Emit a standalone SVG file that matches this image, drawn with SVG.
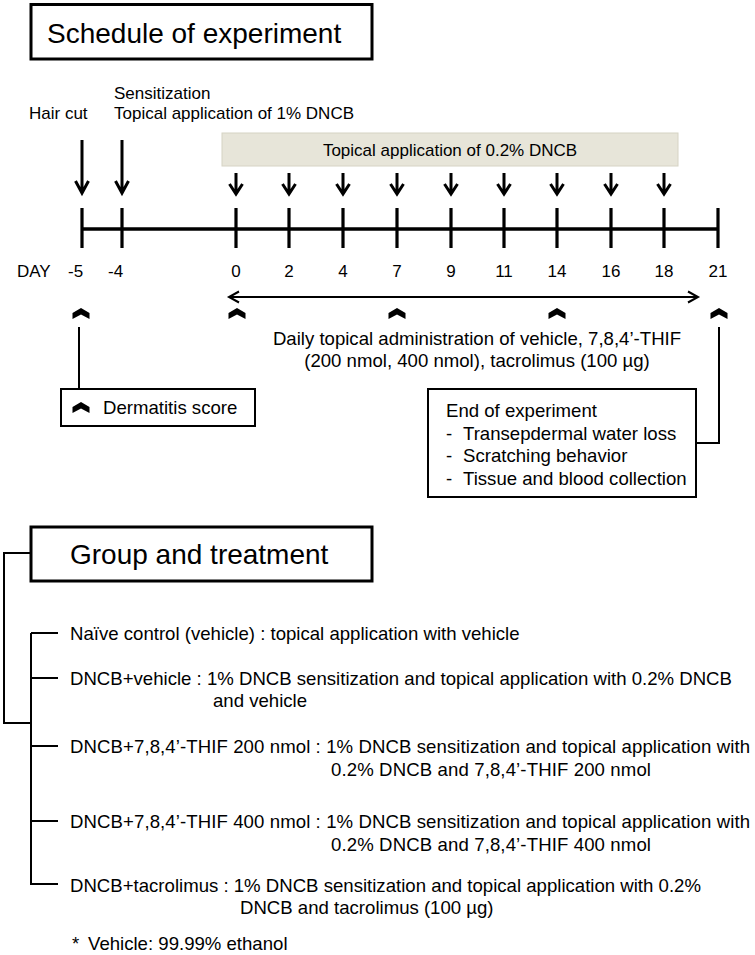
<svg xmlns="http://www.w3.org/2000/svg" xmlns:xlink="http://www.w3.org/1999/xlink" width="755" height="955" viewBox="0 0 755 955">
<style>
text{font-family:"Liberation Sans",Arial,sans-serif;fill:#000}
.t28{font-size:28px}
.t17{font-size:17px}
.t18{font-size:18.6px}
.box{fill:#fff;stroke:#000;stroke-width:3}
.sbox{fill:#fff;stroke:#000;stroke-width:2}
.ln{fill:none;stroke:#000;stroke-width:2}
.arr{fill:none;stroke:#000;stroke-width:3;stroke-linejoin:miter}
.tl{fill:none;stroke:#000;stroke-width:3.5}
.tk{fill:none;stroke:#000;stroke-width:3.2}
.mid{text-anchor:middle}
</style>
<defs>
<path id="arrS" d="M0,-21 V-1 M-6.5,-10 L0,0 L6.5,-10"/>
<path id="arrL" d="M0,-53 V-1 M-6.5,-12 L0,0 L6.5,-12"/>
<polygon id="chev" points="-8.5,5 0,0 8.5,5 8.5,11 0,6.5 -8.5,11"/>
</defs>
<rect width="755" height="955" fill="#fff"/>

<g id="title-schedule">
<rect class="box" x="31" y="4.5" width="341" height="54.5"/>
<text class="t28" x="47" y="43">Schedule of experiment</text>
</g>

<g id="label-haircut">
<text class="t17" x="29" y="119">Hair cut</text>
<use xlink:href="#arrL" class="arr" x="82" y="193"/>
</g>
<g id="label-sensitization">
<text class="t17" x="114" y="99">Sensitization</text>
<text class="t17" x="114" y="119">Topical application of 1% DNCB</text>
<use xlink:href="#arrL" class="arr" x="122" y="193"/>
</g>

<g id="topical-box">
<rect x="222" y="133" width="456" height="33" fill="#e7e5d9" stroke="#d6d3c4" stroke-width="1"/>
<text class="t17 mid" x="450" y="156">Topical application of 0.2% DNCB</text>
</g>

<g id="short-arrows" class="arr">
<use xlink:href="#arrS" x="236" y="194"/>
<use xlink:href="#arrS" x="289" y="194"/>
<use xlink:href="#arrS" x="343" y="194"/>
<use xlink:href="#arrS" x="397" y="194"/>
<use xlink:href="#arrS" x="451" y="194"/>
<use xlink:href="#arrS" x="504" y="194"/>
<use xlink:href="#arrS" x="557" y="194"/>
<use xlink:href="#arrS" x="611" y="194"/>
<use xlink:href="#arrS" x="664" y="194"/>
</g>

<g id="timeline">
<path class="tl" d="M82,229 H718"/>
<path class="tk" d="M82,208 V248 M122,208 V248 M236,208 V248 M289,208 V248 M343,208 V248 M397,208 V248 M451,208 V248 M504,208 V248 M557,208 V248 M611,208 V248 M664,208 V248 M718,208 V248"/>
<text class="t17" x="17" y="277">DAY</text>
<text class="t17" x="68" y="277">-5</text>
<text class="t17" x="108" y="277">-4</text>
<text class="t17 mid" x="236" y="277">0</text>
<text class="t17 mid" x="289" y="277">2</text>
<text class="t17 mid" x="343" y="277">4</text>
<text class="t17 mid" x="397" y="277">7</text>
<text class="t17 mid" x="451" y="277">9</text>
<text class="t17 mid" x="504" y="277">11</text>
<text class="t17 mid" x="557" y="277">14</text>
<text class="t17 mid" x="611" y="277">16</text>
<text class="t17 mid" x="664" y="277">18</text>
<text class="t17 mid" x="718" y="277">21</text>
</g>

<g id="daily-admin">
<path class="ln" d="M229,297 H698 M239,291.5 L229,297 L239,302.5 M688,291.5 L698,297 L688,302.5"/>
<text class="t18 mid" x="477" y="345">Daily topical administration of vehicle, 7,8,4’-THIF</text>
<text class="t18 mid" x="477" y="367">(200 nmol, 400 nmol), tacrolimus (100 µg)</text>
</g>

<g id="chevrons">
<use xlink:href="#chev" x="81" y="308"/>
<use xlink:href="#chev" x="237" y="308"/>
<use xlink:href="#chev" x="397" y="308"/>
<use xlink:href="#chev" x="557" y="308"/>
<use xlink:href="#chev" x="719" y="308"/>
</g>

<g id="dermatitis-box">
<rect class="sbox" x="61" y="389" width="194" height="37"/>
<use xlink:href="#chev" x="81" y="402"/>
<text class="t18" x="103" y="414">Dermatitis score</text>
</g>

<g id="end-box">
<rect class="sbox" x="428" y="389" width="268" height="108"/>
<text class="t18" x="446" y="417">End of experiment</text>
<text class="t18" x="446" y="439.5">-</text><text class="t18" x="463" y="439.5">Transepdermal water loss</text>
<text class="t18" x="446" y="462">-</text><text class="t18" x="463" y="462">Scratching behavior</text>
<text class="t18" x="446" y="484.5">-</text><text class="t18" x="463" y="484.5">Tissue and blood collection</text>
</g>

<g id="connectors" class="ln">
<path d="M79,327 V389"/>
<path d="M719,327 V443 H696"/>
<path d="M31,553 H4 V723 H31"/>
<path d="M31,633 V884 H58 M31,633 H58 M31,678 H58 M31,746 H58 M31,821 H58"/>
</g>

<g id="title-group">
<rect class="box" x="31" y="527" width="341" height="54"/>
<text class="t28" x="70" y="564">Group and treatment</text>
</g>

<g id="group-naive">
<text class="t18" x="70" y="640">Naïve control (vehicle) : topical application with vehicle</text>
</g>
<g id="group-dncb-vehicle">
<text class="t18" x="70" y="685">DNCB+vehicle : 1% DNCB sensitization and topical application with 0.2% DNCB</text>
<text class="t18" x="213" y="707">and vehicle</text>
</g>
<g id="group-thif200">
<text class="t18" x="70" y="753" textLength="680" lengthAdjust="spacing">DNCB+7,8,4’-THIF 200 nmol : 1% DNCB sensitization and topical application with</text>
<text class="t18" x="331" y="775.5" textLength="320" lengthAdjust="spacing">0.2% DNCB and 7,8,4’-THIF 200 nmol</text>
</g>
<g id="group-thif400">
<text class="t18" x="70" y="828" textLength="680" lengthAdjust="spacing">DNCB+7,8,4’-THIF 400 nmol : 1% DNCB sensitization and topical application with</text>
<text class="t18" x="331" y="850.5" textLength="320" lengthAdjust="spacing">0.2% DNCB and 7,8,4’-THIF 400 nmol</text>
</g>
<g id="group-tacrolimus">
<text class="t18" x="70" y="891.5">DNCB+tacrolimus : 1% DNCB sensitization and topical application with 0.2%</text>
<text class="t18" x="240" y="913.5">DNCB and tacrolimus (100 µg)</text>
</g>
<g id="footnote">
<text class="t18" x="72" y="950">*</text>
<text class="t18" x="88" y="950">Vehicle: 99.99% ethanol</text>
</g>
</svg>
